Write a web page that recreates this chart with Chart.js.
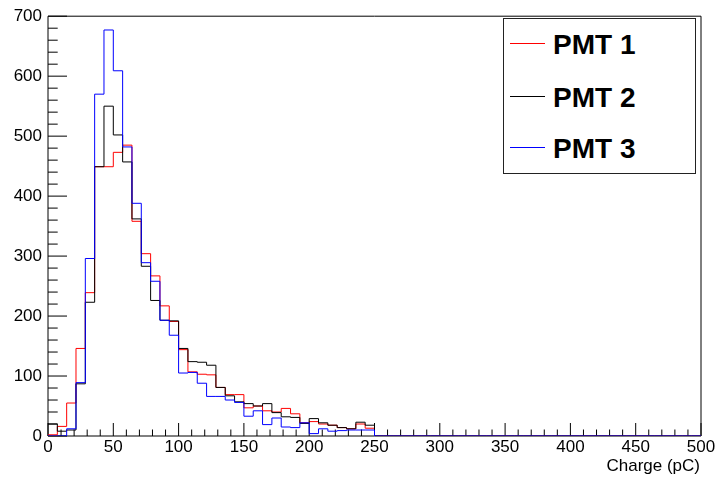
<!DOCTYPE html>
<html>
<head>
<meta charset="utf-8">
<script src="https://cdn.jsdelivr.net/npm/chart.js@4.4.0/dist/chart.umd.min.js"></script>
<style>
  html, body { margin: 0; padding: 0; background: #fff; }
  #wrap { position: relative; width: 717px; height: 478px; }
  #legend { position: absolute; left: 503px; top: 18px; width: 193px; height: 156px; box-sizing: border-box; border: 1px solid #222; background: #fff; }
  .lg-line { position: absolute; left: 6px; width: 35px; height: 1px; }
  .lg-text { position: absolute; left: 49px; font: bold 28px 'Liberation Sans', Arial, sans-serif; line-height: 1; white-space: nowrap; color: #000; }
  #xtitle { position: absolute; right: 17px; top: 457px; font: 17px 'Liberation Sans', Arial, sans-serif; line-height: 1; color: #000; }
</style>
</head>
<body>
<div id="wrap">
  <canvas id="grafica" width="717" height="478"></canvas>
  <div id="legend"></div>
  <div id="xtitle">Charge (pC)</div>
</div>
<script>
// Binning del histograma: 70 bins entre 0 y 500 pC
const nBins = 70;
const xMin = 0;
const xMax = 500;

// Cuentas por bin (los primeros 35 bins, hasta 250 pC)
const pmt1 = [2, 16, 55, 146, 239, 449, 449, 473, 485, 358, 304, 267, 217, 191, 144, 107, 103, 102, 81, 69, 69, 47, 50, 42, 40, 46, 37, 22, 24, 20, 18, 14, 12, 20, 13];
const pmt2 = [20, 8, 10, 87, 223, 449, 550, 502, 457, 362, 283, 226, 193, 192, 146, 124, 123, 118, 81, 67, 57, 54, 50, 54, 39, 32, 31, 21, 29, 22, 18, 14, 12, 23, 18];
const pmt3 = [0, 0, 12, 89, 296, 570, 677, 609, 482, 388, 289, 258, 193, 168, 105, 106, 88, 66, 66, 60, 56, 33, 42, 19, 30, 15, 14, 22, 4, 12, 8, 9, 10, 10, 10];
// De 250 a 500 pC no hay entradas
const colaVacia = [0, 0, 0, 0, 0, 0, 0, 0, 0, 0, 0, 0, 0, 0, 0, 0, 0, 0, 0, 0, 0, 0, 0, 0, 0, 0, 0, 0, 0, 0, 0, 0, 0, 0, 0];

const etiquetas = ["PMT 1", "PMT 2", "PMT 3"];
const colores = ["#ff0000", "#000000", "#0000ff"];

// Ticks del eje (estilo ROOT, hacia dentro)
const xTickMayor = 50, xTickMenor = 10;
const yMax = 700, yTickMayor = 100, yTickMenor = 20;

// Convierte las cuentas en puntos de escalón (borde izquierdo de cada bin)
function puntosHistograma(cuentas) {
    const todas = cuentas.concat(colaVacia);
    const ancho = (xMax - xMin) / nBins;
    const pts = todas.map((v, i) => ({ x: xMin + i * ancho, y: v }));
    pts.push({ x: xMax, y: 0 });
    return pts;
}

// Marco y ticks dibujados antes de las líneas
const ejesRoot = {
    id: "ejesRoot",
    beforeDatasetsDraw(chart) {
        const { ctx, chartArea: a, scales: { x, y } } = chart;
        ctx.save();
        ctx.strokeStyle = "#000";
        ctx.lineWidth = 1;
        ctx.beginPath();
        ctx.rect(a.left, a.top, a.right - a.left, a.bottom - a.top);
        for (let v = xMin; v <= xMax; v += xTickMenor) {
            const px = x.getPixelForValue(v);
            const largo = v % xTickMayor === 0 ? 13 : 6.5;
            ctx.moveTo(px, a.bottom);
            ctx.lineTo(px, a.bottom - largo);
        }
        for (let v = 0; v <= yMax; v += yTickMenor) {
            const py = y.getPixelForValue(v);
            const largo = v % yTickMayor === 0 ? 19 : 9.7;
            ctx.moveTo(a.left, py);
            ctx.lineTo(a.left + largo, py);
        }
        ctx.stroke();
        ctx.restore();
    }
};

const series = [pmt1, pmt2, pmt3];

new Chart(document.getElementById("grafica"), {
    type: "line",
    data: {
        datasets: series.map((s, i) => ({
            label: etiquetas[i],
            data: puntosHistograma(s),
            borderColor: colores[i],
            borderWidth: 1,
            stepped: true,
            pointRadius: 0,
            fill: false,
            tension: 0,
            order: 3 - i
        }))
    },
    options: {
        responsive: false,
        animation: false,
        events: [],
        layout: { padding: { top: 11, right: 16, left: 0, bottom: 0 } },
        plugins: { legend: { display: false }, tooltip: { enabled: false } },
        scales: {
            x: {
                type: "linear",
                min: xMin,
                max: xMax,
                grid: { display: false, drawTicks: false },
                border: { display: false },
                ticks: { stepSize: xTickMayor, padding: 1, color: "#000", font: { family: "'Liberation Sans', Arial", size: 17 } },
                afterFit(scale) { scale.height = 42; }
            },
            y: {
                min: 0,
                max: yMax,
                grid: { display: false, drawTicks: false },
                border: { display: false },
                ticks: { stepSize: yTickMayor, padding: 6, color: "#000", font: { family: "'Liberation Sans', Arial", size: 17 } },
                afterFit(scale) { scale.width = 48; }
            }
        }
    },
    plugins: [ejesRoot]
});

// Leyenda en caja, como la de ROOT
const leyenda = document.getElementById("legend");
const lineaTop = [24, 77, 128];
const textoTop = [12.3, 64.6, 115.6];
etiquetas.forEach((t, i) => {
    const linea = document.createElement("div");
    linea.className = "lg-line";
    linea.style.top = lineaTop[i] + "px";
    linea.style.background = colores[i];
    leyenda.appendChild(linea);
    const texto = document.createElement("div");
    texto.className = "lg-text";
    texto.style.top = textoTop[i] + "px";
    texto.textContent = t;
    leyenda.appendChild(texto);
});
</script>
</body>
</html>
